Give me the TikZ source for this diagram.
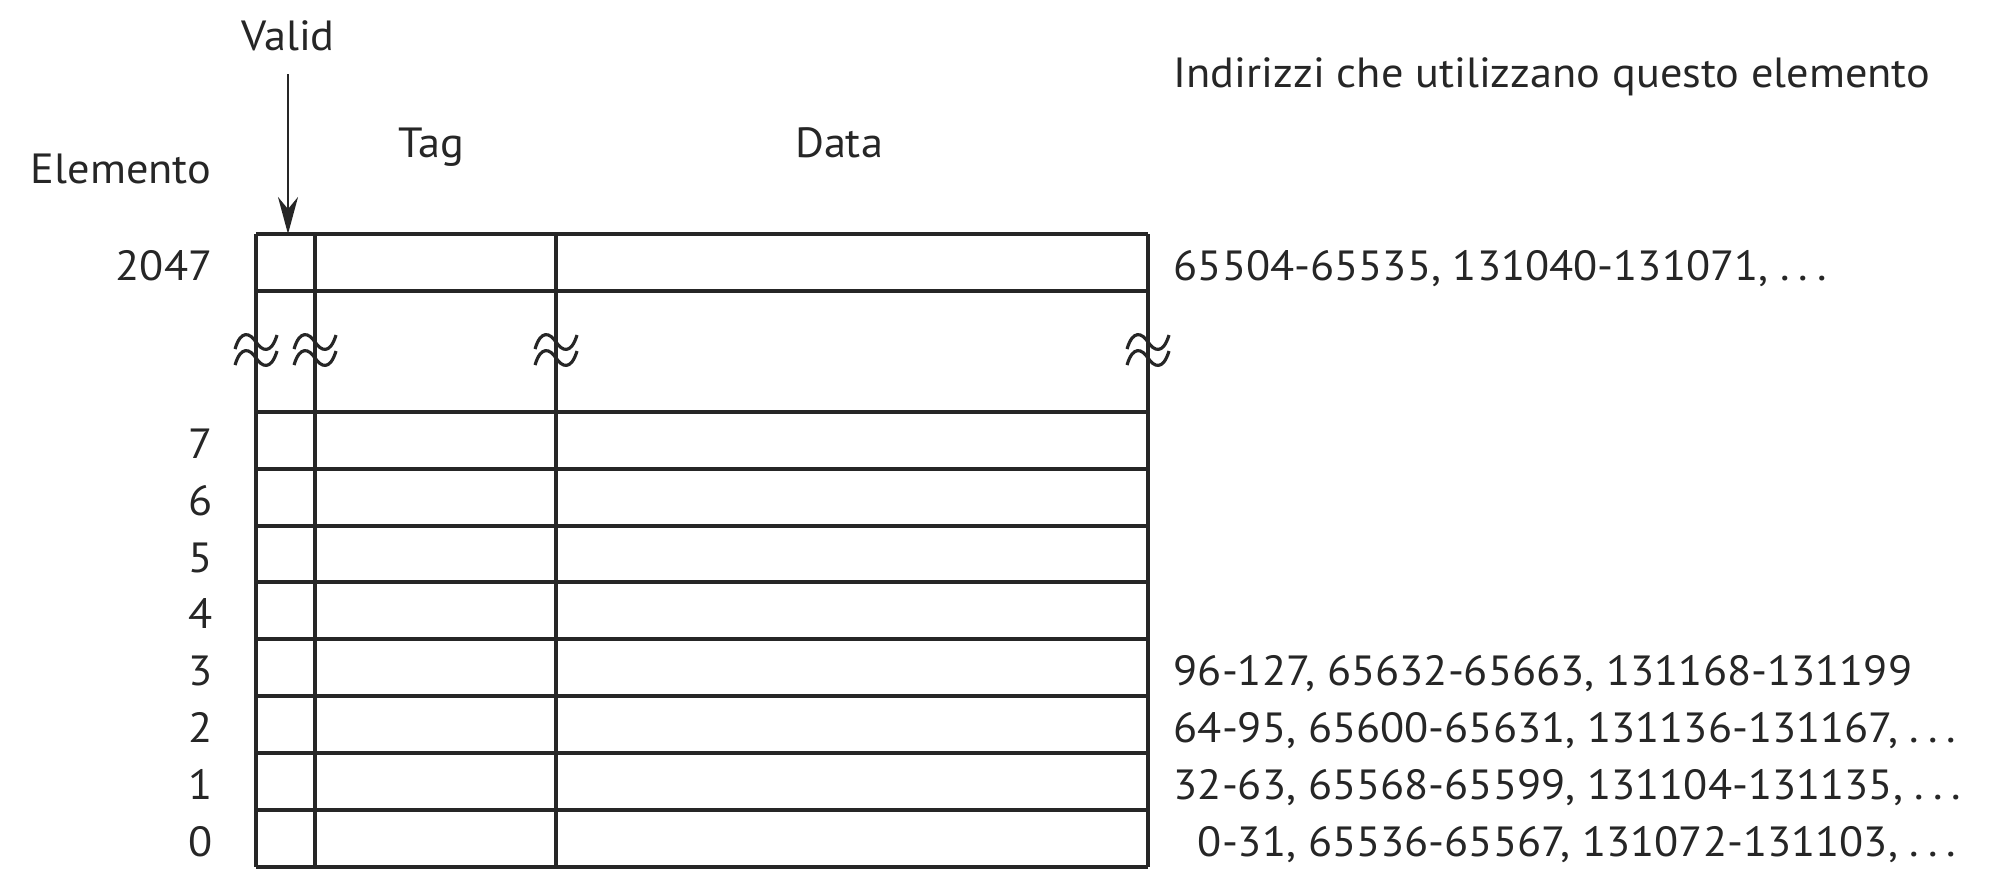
\documentclass[tikz,border=0pt]{standalone}
\usepackage{fontspec}
\setmainfont{PT Sans}[FakeStretch=1.05]
\usetikzlibrary{arrows.meta}
\newcommand{\etcdots}{.\kern2.5pt.\kern2.5pt.}
\begin{document}
\begin{tikzpicture}[x=0.01cm,y=-0.01cm,
  txt/.style={inner sep=0pt,font=\fontsize{12}{14}\selectfont,text=black!85},
  grid/.style={line width=1.35pt,black!85},
  pointer/.style={line width=0.7pt,black!85,-{Stealth[length=0.37cm,width=0.2cm]}},
  brk/.pic={\draw[line width=0.9pt,black!85] (-21,7) .. controls (-15,-13) and (-6,-9) .. (0,0) .. controls (6,9) and (15,13) .. (21,-7);}]
\useasboundingbox (0,0) rectangle (2000,893);

% column edges and row lines of the cache
\def\xa{256}\def\xb{315}\def\xc{556}\def\xd{1148}
\draw[grid] (\xa,234) -- (\xd,234);
\draw[grid] (\xa,291) -- (\xd,291);
\foreach \y in {412,469,526,582,639,696,753,810,867}
  \draw[grid] (\xa,\y) -- (\xd,\y);
\foreach \x in {\xa,\xb,\xc,\xd}
  \draw[grid] (\x,234) -- (\x,867);

% break marks on the omitted rows
\foreach \x in {\xa,\xb,\xc,\xd} {
  \pic at (\x,342) {brk};
  \pic at (\x,358) {brk};
}

% headings
\node[txt,anchor=base] (valid) at (288,50) {Valid};
\node[txt,anchor=base] (tag) at (431,157) {Tag};
\node[txt,anchor=base] (data) at (839,157) {Data};
\node[txt,anchor=base] (elem) at (121,183) {Elemento};
\node[txt,anchor=base west] (addr) at (1173,87) {Indirizzi che utilizzano questo elemento};

\coordinate (vstart) at (288,74);
\coordinate (vtop) at (288,234);
\draw[pointer] (vstart) -- (vtop);

% element indices
\node[txt,anchor=base east] (r2047) at (213,280) {2047};
\foreach \n/\y in {7/458,6/515,5/572,4/628,3/685,2/742,1/799,0/856}
  \node[txt,anchor=base east] (r\n) at (213,\y) {\n};

% addresses mapped to each element
\node[txt,anchor=base west] (a2047) at (1173,280) {65504-65535, 131040-131071, \etcdots};
\node[txt,anchor=base west] (a3) at (1173,685) {96-127, 65632-65663, 131168-131199};
\node[txt,anchor=base west] (a2) at (1173,742) {64-95, 65600-65631, 131136-131167, \etcdots};
\node[txt,anchor=base west] (a1) at (1173,799) {32-63, 65568-65599, 131104-131135, \etcdots};
\node[txt,anchor=base west] (a0) at (1173,856) {\hphantom{3}0-31, 65536-65567, 131072-131103, \etcdots};
\end{tikzpicture}
\end{document}
